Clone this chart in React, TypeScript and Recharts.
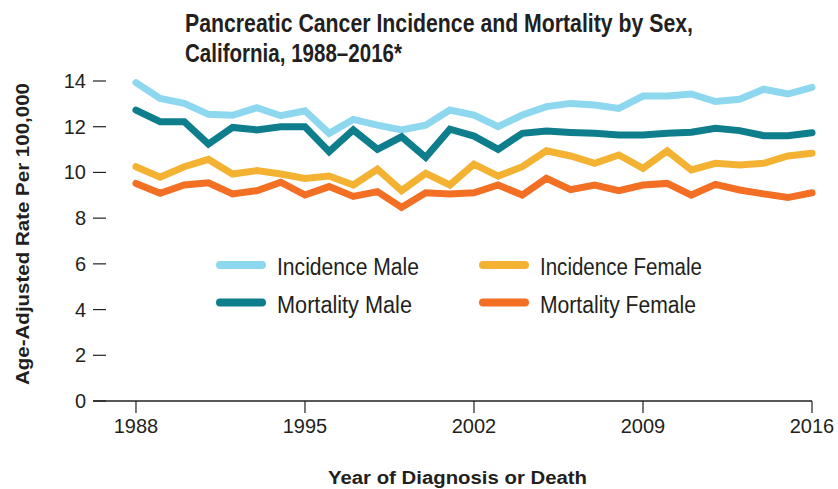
import React from "react";
import { LineChart, Line, XAxis, YAxis, Legend, Label } from "recharts";

// Values
const years = [
  1988, 1989, 1990, 1991, 1992, 1993, 1994, 1995, 1996, 1997, 1998, 1999, 2000, 2001, 2002,
  2003, 2004, 2005, 2006, 2007, 2008, 2009, 2010, 2011, 2012, 2013, 2014, 2015, 2016,
];
const incidenceMale = [
  13.93, 13.24, 13.02, 12.54, 12.5, 12.83, 12.48, 12.7, 11.71, 12.32, 12.07, 11.86, 12.07, 12.73, 12.51,
  12.0, 12.51, 12.88, 13.02, 12.95, 12.8, 13.34, 13.34, 13.43, 13.1, 13.2, 13.64, 13.43, 13.72,
];
const mortalityMale = [
  12.73, 12.22, 12.22, 11.24, 11.97, 11.86, 12.0, 12.0, 10.91, 11.86, 11.01, 11.56, 10.66, 11.89, 11.59,
  11.01, 11.71, 11.81, 11.75, 11.71, 11.64, 11.64, 11.71, 11.76, 11.93, 11.83, 11.61, 11.61, 11.74,
];
const incidenceFemale = [
  10.25, 9.79, 10.25, 10.57, 9.93, 10.08, 9.93, 9.74, 9.84, 9.45, 10.14, 9.2, 9.96, 9.45, 10.36,
  9.84, 10.25, 10.95, 10.72, 10.4, 10.76, 10.18, 10.94, 10.11, 10.4, 10.33, 10.4, 10.72, 10.84,
];
const mortalityFemale = [
  9.52, 9.09, 9.45, 9.55, 9.06, 9.2, 9.57, 9.01, 9.38, 8.95, 9.16, 8.47, 9.11, 9.06, 9.11,
  9.45, 9.01, 9.74, 9.25, 9.45, 9.2, 9.45, 9.52, 9.01, 9.48, 9.23, 9.06, 8.9, 9.11,
];
const xTicks = [1988, 1995, 2002, 2009, 2016];
const yTicks = [0, 2, 4, 6, 8, 10, 12, 14];

// legend reads row by row: incidence on top, mortality below
const legendOrder = ["incidenceMale", "incidenceFemale", "mortalityMale", "mortalityFemale"];
const legendWidths: Record<string, number> = {
  incidenceMale: 142,
  incidenceFemale: 162,
  mortalityMale: 135,
  mortalityFemale: 156,
};

const data = years.map((year, i) => ({
  year,
  incidenceMale: incidenceMale[i],
  incidenceFemale: incidenceFemale[i],
  mortalityMale: mortalityMale[i],
  mortalityFemale: mortalityFemale[i],
}));

const TEXT = "#231f20";
const SANS = '"Liberation Sans", Arial, sans-serif';

function YTick(props: any) {
  const { x, y, payload } = props;
  return (
    <g>
      <line x1={x} x2={x + 13} y1={y} y2={y} stroke={TEXT} strokeWidth={1.2} />
      <text x={x - 7} y={y} dy={7} textAnchor="end" fontSize={20} fontFamily={SANS} fill={TEXT}>
        {payload.value}
      </text>
    </g>
  );
}

function LegendBox(props: any) {
  const items = [...(props.payload || [])].sort(
    (a: any, b: any) => legendOrder.indexOf(a.dataKey) - legendOrder.indexOf(b.dataKey)
  );
  return (
    <svg width={520} height={80} style={{ display: "block" }}>
      {items.map((item: any, i: number) => {
        const col = i % 2;
        const row = Math.floor(i / 2);
        const x0 = col * 263;
        const y0 = 20 + row * 37.5;
        return (
          <g key={item.dataKey}>
            <line x1={x0 + 4} x2={x0 + 46} y1={y0} y2={y0} stroke={item.color} strokeWidth={8} strokeLinecap="round" />
            <text
              x={x0 + 61}
              y={y0 + 10}
              fontFamily={SANS}
              fontSize={23.5}
              fill={TEXT}
              textLength={legendWidths[item.dataKey]}
              lengthAdjust="spacingAndGlyphs"
            >
              {item.value}
            </text>
          </g>
        );
      })}
    </svg>
  );
}

export default function App() {
  return (
    <div style={{ position: "absolute", left: 0, top: 0, width: 838, height: 489, background: "#fff" }}>
      <svg width={838} height={70} style={{ position: "absolute", left: 0, top: 0 }}>
        <text x={185} y={31.5} fontFamily={SANS} fontWeight="bold" fontSize={25} fill={TEXT} textLength={508} lengthAdjust="spacingAndGlyphs">
          Pancreatic Cancer Incidence and Mortality by Sex,
        </text>
        <text x={185} y={62} fontFamily={SANS} fontWeight="bold" fontSize={25} fill={TEXT} textLength={217} lengthAdjust="spacingAndGlyphs">
          California, 1988–2016*
        </text>
      </svg>
      <LineChart width={838} height={489} data={data} margin={{ top: 81, right: 26, bottom: 0, left: 0 }}>
        <XAxis
          dataKey="year"
          type="number"
          domain={[1986.22, 2016]}
          ticks={xTicks}
          height={88}
          tickSize={12}
          tickMargin={6}
          axisLine={{ stroke: TEXT, strokeWidth: 1.5 }}
          tickLine={{ stroke: TEXT, strokeWidth: 1.2 }}
          tick={{ fontSize: 20, fontFamily: SANS, fill: TEXT }}
        >
          <Label
            content={(p: any) => {
              const vb = p.viewBox || { x: 93, y: 401, width: 719 };
              return (
                <text
                  x={vb.x + vb.width / 2 + 5}
                  y={484}
                  textAnchor="middle"
                  fontFamily={SANS}
                  fontWeight="bold"
                  fontSize={18}
                  fill={TEXT}
                  textLength={259}
                  lengthAdjust="spacingAndGlyphs"
                >
                  Year of Diagnosis or Death
                </text>
              );
            }}
          />
        </XAxis>
        <YAxis
          domain={[0, 14]}
          ticks={yTicks}
          width={93}
          axisLine={false}
          tickLine={false}
          tickSize={0}
          tickMargin={0}
          tick={<YTick />}
        >
          <Label
            content={(p: any) => {
              const vb = p.viewBox || { x: 0, y: 81, height: 320 };
              const cx = 29;
              const cy = vb.y + vb.height / 2 - 7;
              return (
                <text
                  x={cx}
                  y={cy}
                  transform={`rotate(-90 ${cx} ${cy})`}
                  textAnchor="middle"
                  fontFamily={SANS}
                  fontWeight="bold"
                  fontSize={18}
                  fill={TEXT}
                  textLength={302}
                  lengthAdjust="spacingAndGlyphs"
                >
                  Age-Adjusted Rate Per 100,000
                </text>
              );
            }}
          />
        </YAxis>
        <Legend
          layout="horizontal"
          verticalAlign="middle"
          align="center"
          content={<LegendBox />}
          wrapperStyle={{ position: "absolute", left: 216, top: 245, width: 520 }}
        />
        <Line
          type="linear"
          dataKey="incidenceMale"
          name="Incidence Male"
          stroke="#8ed8ef"
          strokeWidth={7}
          strokeLinecap="round"
          dot={false}
          activeDot={false}
          isAnimationActive={false}
        />
        <Line
          type="linear"
          dataKey="incidenceFemale"
          name="Incidence Female"
          stroke="#f4b233"
          strokeWidth={7}
          strokeLinecap="round"
          dot={false}
          activeDot={false}
          isAnimationActive={false}
        />
        <Line
          type="linear"
          dataKey="mortalityMale"
          name="Mortality Male"
          stroke="#0e7d8c"
          strokeWidth={7}
          strokeLinecap="round"
          dot={false}
          activeDot={false}
          isAnimationActive={false}
        />
        <Line
          type="linear"
          dataKey="mortalityFemale"
          name="Mortality Female"
          stroke="#f26f24"
          strokeWidth={7}
          strokeLinecap="round"
          dot={false}
          activeDot={false}
          isAnimationActive={false}
        />
      </LineChart>
    </div>
  );
}
